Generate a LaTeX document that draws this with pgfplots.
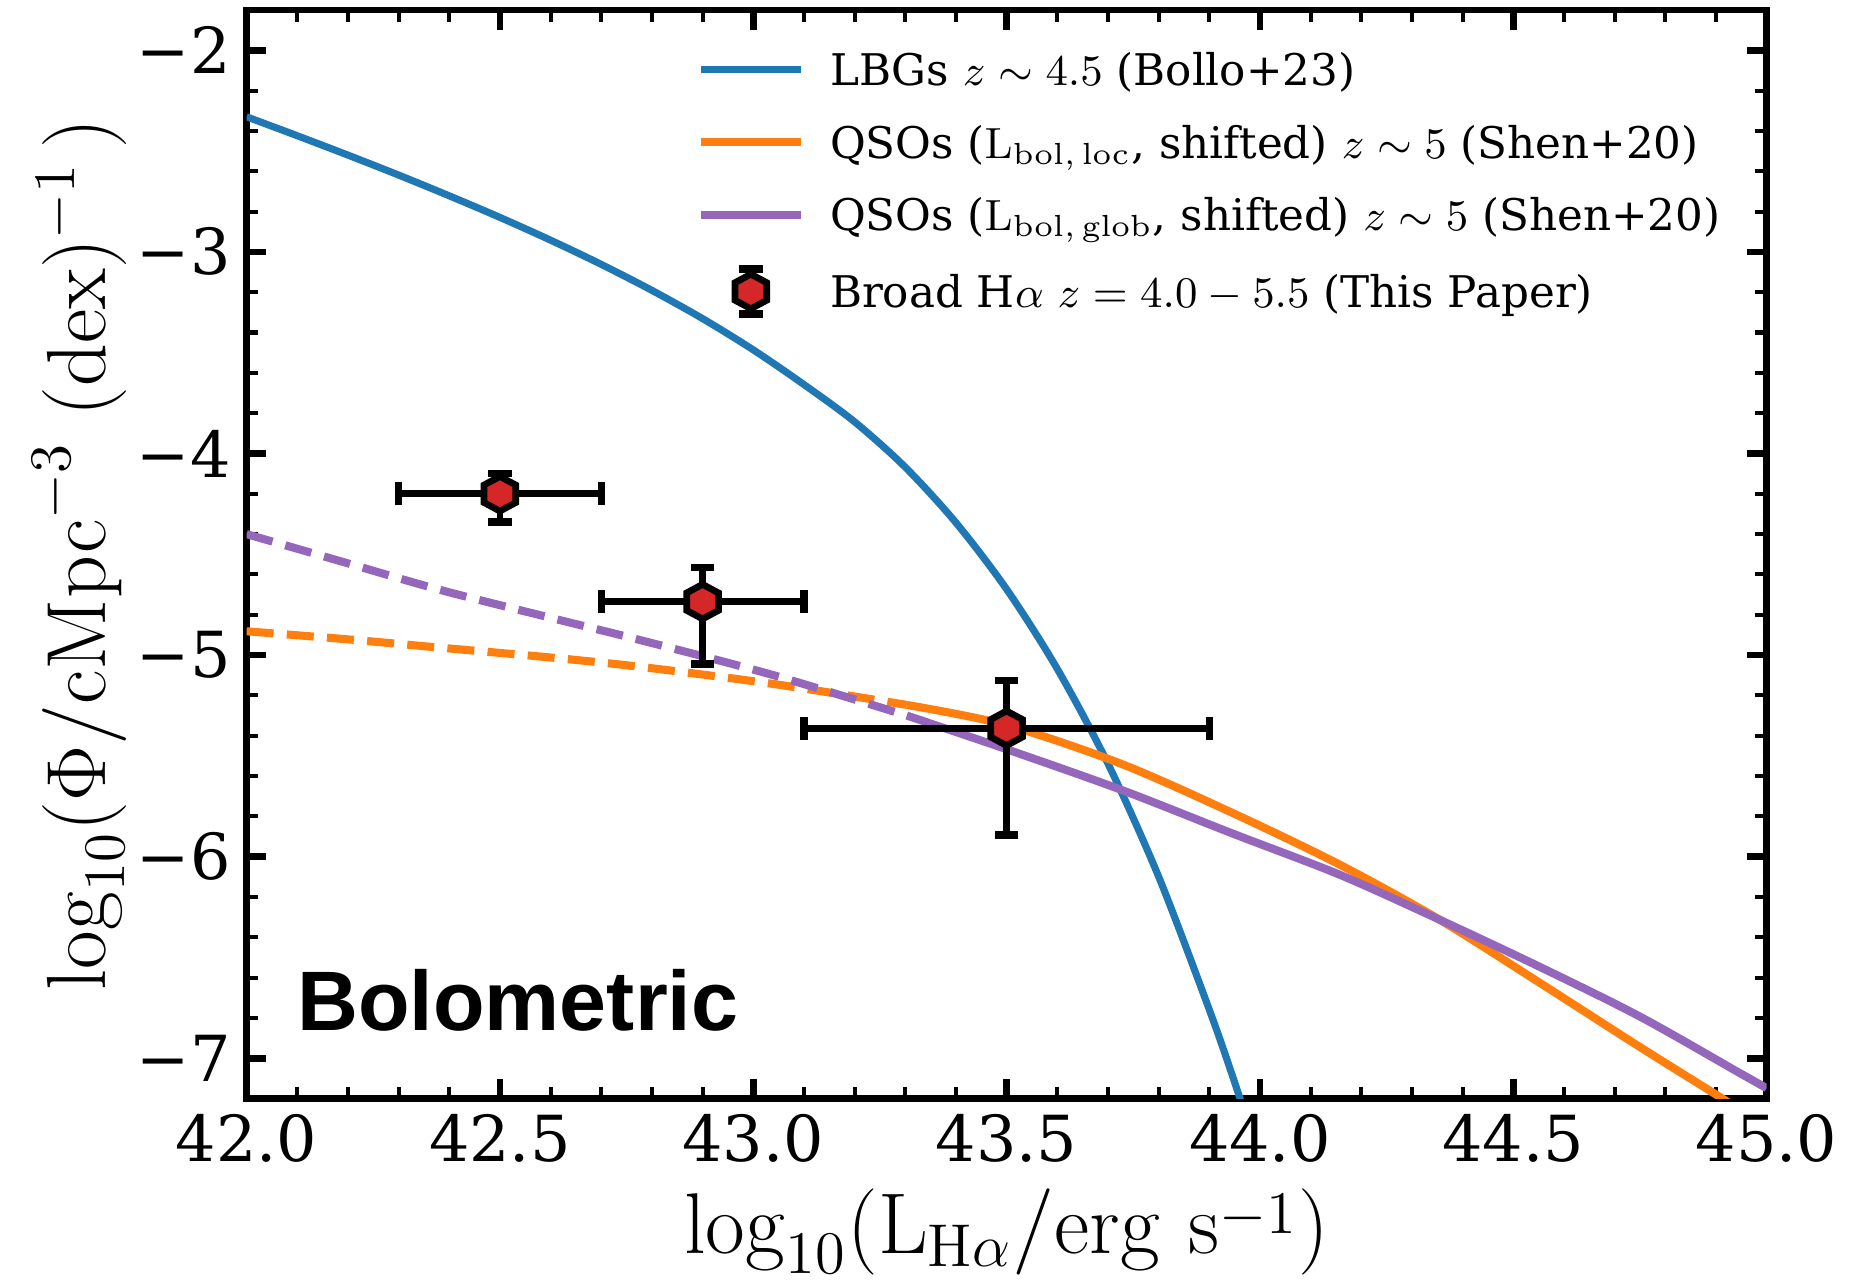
\RequirePackage{fix-cm}
\documentclass[border=0pt]{standalone}
\usepackage[no-math]{fontspec}
\setmainfont{DejaVu Serif}
\newfontfamily\boldsans{Liberation Sans}
\usepackage{pgfplots}
\pgfplotsset{compat=1.18}

\definecolor{tabblue}{HTML}{1F77B4}
\definecolor{taborange}{HTML}{FF7F0E}
\definecolor{tabpurple}{HTML}{9467BD}
\definecolor{tabred}{HTML}{D62728}

\pgfdeclareplotmark{hexa}{%
  \pgfpathmoveto{\pgfqpoint{0pt}{3.65pt}}%
  \pgfpathlineto{\pgfqpoint{3.35pt}{1.85pt}}%
  \pgfpathlineto{\pgfqpoint{3.35pt}{-1.85pt}}%
  \pgfpathlineto{\pgfqpoint{0pt}{-3.65pt}}%
  \pgfpathlineto{\pgfqpoint{-3.35pt}{-1.85pt}}%
  \pgfpathlineto{\pgfqpoint{-3.35pt}{1.85pt}}%
  \pgfpathclose
  \pgfusepathqfillstroke}

\pgfplotstableread{
x     y       ex   eyp    eym
42.5  -4.200  0.2  0.100  0.140
42.9  -4.735  0.2  0.170  0.310
43.5  -5.363  0.4  0.236  0.529
}\bha

\begin{document}
\begin{tikzpicture}
\begin{axis}[
  scale only axis,
  width=320.55pt, height=229.6pt,
  xmin=42, xmax=45, ymin=-7.2, ymax=-1.8,
  scaled ticks=false,
  xtick={42,42.5,43,43.5,44,44.5,45},
  xticklabels={42.0,42.5,43.0,43.5,44.0,44.5,45.0},
  ytick={-7,-6,-5,-4,-3,-2},
  yticklabels={−7,−6,−5,−4,−3,−2},
  minor x tick num=4, minor y tick num=4,
  tick align=inside, tick pos=both,
  axis line style={line width=1.4pt},
  major tick length=4.2pt, minor tick length=2.5pt,
  tick style={black},
  major tick style={line width=1.4pt},
  minor tick style={line width=0.85pt},
  xticklabel style={font=\fontsize{13.4}{16}\selectfont, anchor=base, inner sep=0pt, yshift=-13.2pt},
  yticklabel style={font=\fontsize{13.4}{16}\selectfont, anchor=east, inner sep=0pt, xshift=-3.2pt},
  legend image code/.code={\draw[#1] (0pt,0pt) -- (21.1pt,0pt);},
  legend cell align=left,
  legend style={at={(axis description cs:0.2962,0.9654)}, anchor=north west,
    draw=none, fill=none, inner sep=0pt, outer sep=0pt,
    row sep=5.9pt, column sep=5.3pt,
    font=\fontsize{9.2}{11}\selectfont,
    nodes={inner sep=0pt, text height=8pt, text depth=1.4pt}},
]
\addplot[tabblue, line width=1.5pt, smooth] coordinates {
(42.0,-2.330) (42.1,-2.424) (42.2,-2.520) (42.3,-2.619) (42.4,-2.722)
(42.5,-2.829) (42.6,-2.942) (42.7,-3.062) (42.8,-3.191) (42.9,-3.331)
(43.0,-3.486) (43.1,-3.658) (43.2,-3.843) (43.3,-4.068) (43.4,-4.343)
(43.5,-4.673) (43.6,-5.068) (43.7,-5.538) (43.8,-6.098) (43.9,-6.758)
(43.95,-7.118) (44.0,-7.503)};
\addlegendentry{LBGs $z\sim4.5$ (Bollo+23)}

\addplot[taborange, line width=1.7pt, smooth, dash pattern=on 5.7pt off 2.8pt, forget plot] coordinates {
(42.000,-4.882) (42.200,-4.922) (42.381,-4.963) (42.600,-5.012) (42.776,-5.058)
(43.039,-5.143) (43.303,-5.247)};
\addplot[taborange, line width=1.7pt, smooth] coordinates {
(43.303,-5.247) (43.500,-5.347) (43.727,-5.540) (43.946,-5.783)
(44.158,-6.040) (44.355,-6.313) (44.552,-6.625) (44.750,-6.944) (44.901,-7.181)
(44.950,-7.260)};
\addlegendentry{QSOs ($\mathrm{L}_{\mathrm{bol,\,loc}}$, shifted) $z\sim5$ (Shen+20)}

\addplot[tabpurple, line width=1.7pt, smooth, dash pattern=on 5.7pt off 2.8pt, forget plot] coordinates {
(42.000,-4.400) (42.200,-4.545) (42.381,-4.676) (42.600,-4.815) (42.776,-4.925)
(43.039,-5.099) (43.303,-5.300)};
\addplot[tabpurple, line width=1.7pt, smooth] coordinates {
(43.303,-5.300) (43.500,-5.467) (43.727,-5.669) (43.946,-5.885) (44.158,-6.090)
(44.355,-6.313) (44.552,-6.546) (44.750,-6.793) (44.947,-7.073) (45.000,-7.148)};
\addlegendentry{QSOs ($\mathrm{L}_{\mathrm{bol,\,glob}}$, shifted) $z\sim5$ (Shen+20)}

\addplot[only marks, mark=hexa,
  mark options={fill=tabred, draw=black, line width=1.4pt},
  legend image code/.code={%
    \path[draw=none,fill=none] (0pt,-4.75pt) rectangle (21.1pt,4.75pt);
    \draw[black,line width=1.4pt] (10.55pt,-4.75pt) -- (10.55pt,4.75pt);
    \draw[black,line width=1.55pt] (8.05pt,4.75pt) -- (13.05pt,4.75pt);
    \draw[black,line width=1.55pt] (8.05pt,-4.75pt) -- (13.05pt,-4.75pt);
    \begin{scope}
      \pgftransformshift{\pgfqpoint{10.55pt}{0pt}}%
      \pgfsetfillcolor{tabred}\pgfsetstrokecolor{black}\pgfsetlinewidth{1.4pt}%
      \pgfuseplotmark{hexa}%
    \end{scope}
  },
  error bars/.cd,
  x dir=both, x explicit, y dir=both, y explicit,
  error bar style={line width=1.4pt, black},
  error mark options={rotate=90, black, line width=1.55pt, mark size=2.45pt},
] table[x=x, y=y, x error=ex, y error plus=eyp, y error minus=eym] {\bha};
\addlegendentry{Broad H$\alpha$ $z=4.0-5.5$ (This Paper)}

\node[anchor=base west, inner sep=0pt, font=\boldsans\bfseries\fontsize{17.8}{20}\selectfont]
  at (rel axis cs:0.0328,0.0623) {Bolometric};
\end{axis}

\node[rotate=90, anchor=base, inner sep=0pt, font=\fontsize{17.7}{20}\selectfont]
  at ([xshift=-29.85pt]current axis.west)
  {$\log_{10}(\Phi/\mathrm{cMpc}^{-3}\ (\mathrm{dex})^{-1}\,)$};
\node[anchor=base, inner sep=0pt, font=\fontsize{18.2}{21}\selectfont]
  at ([yshift=-32.6pt]current axis.south)
  {$\log_{10}(\mathrm{L}_{\mathrm{H}\alpha}/\mathrm{erg\ s}^{\raisebox{-2.4pt}{$\scriptstyle -1$}})$};

\pgfresetboundingbox
\path ([xshift=-52pt,yshift=-38.3pt]current axis.south west) rectangle ([xshift=19.5pt,yshift=2.1pt]current axis.north east);
\end{tikzpicture}
\end{document}
